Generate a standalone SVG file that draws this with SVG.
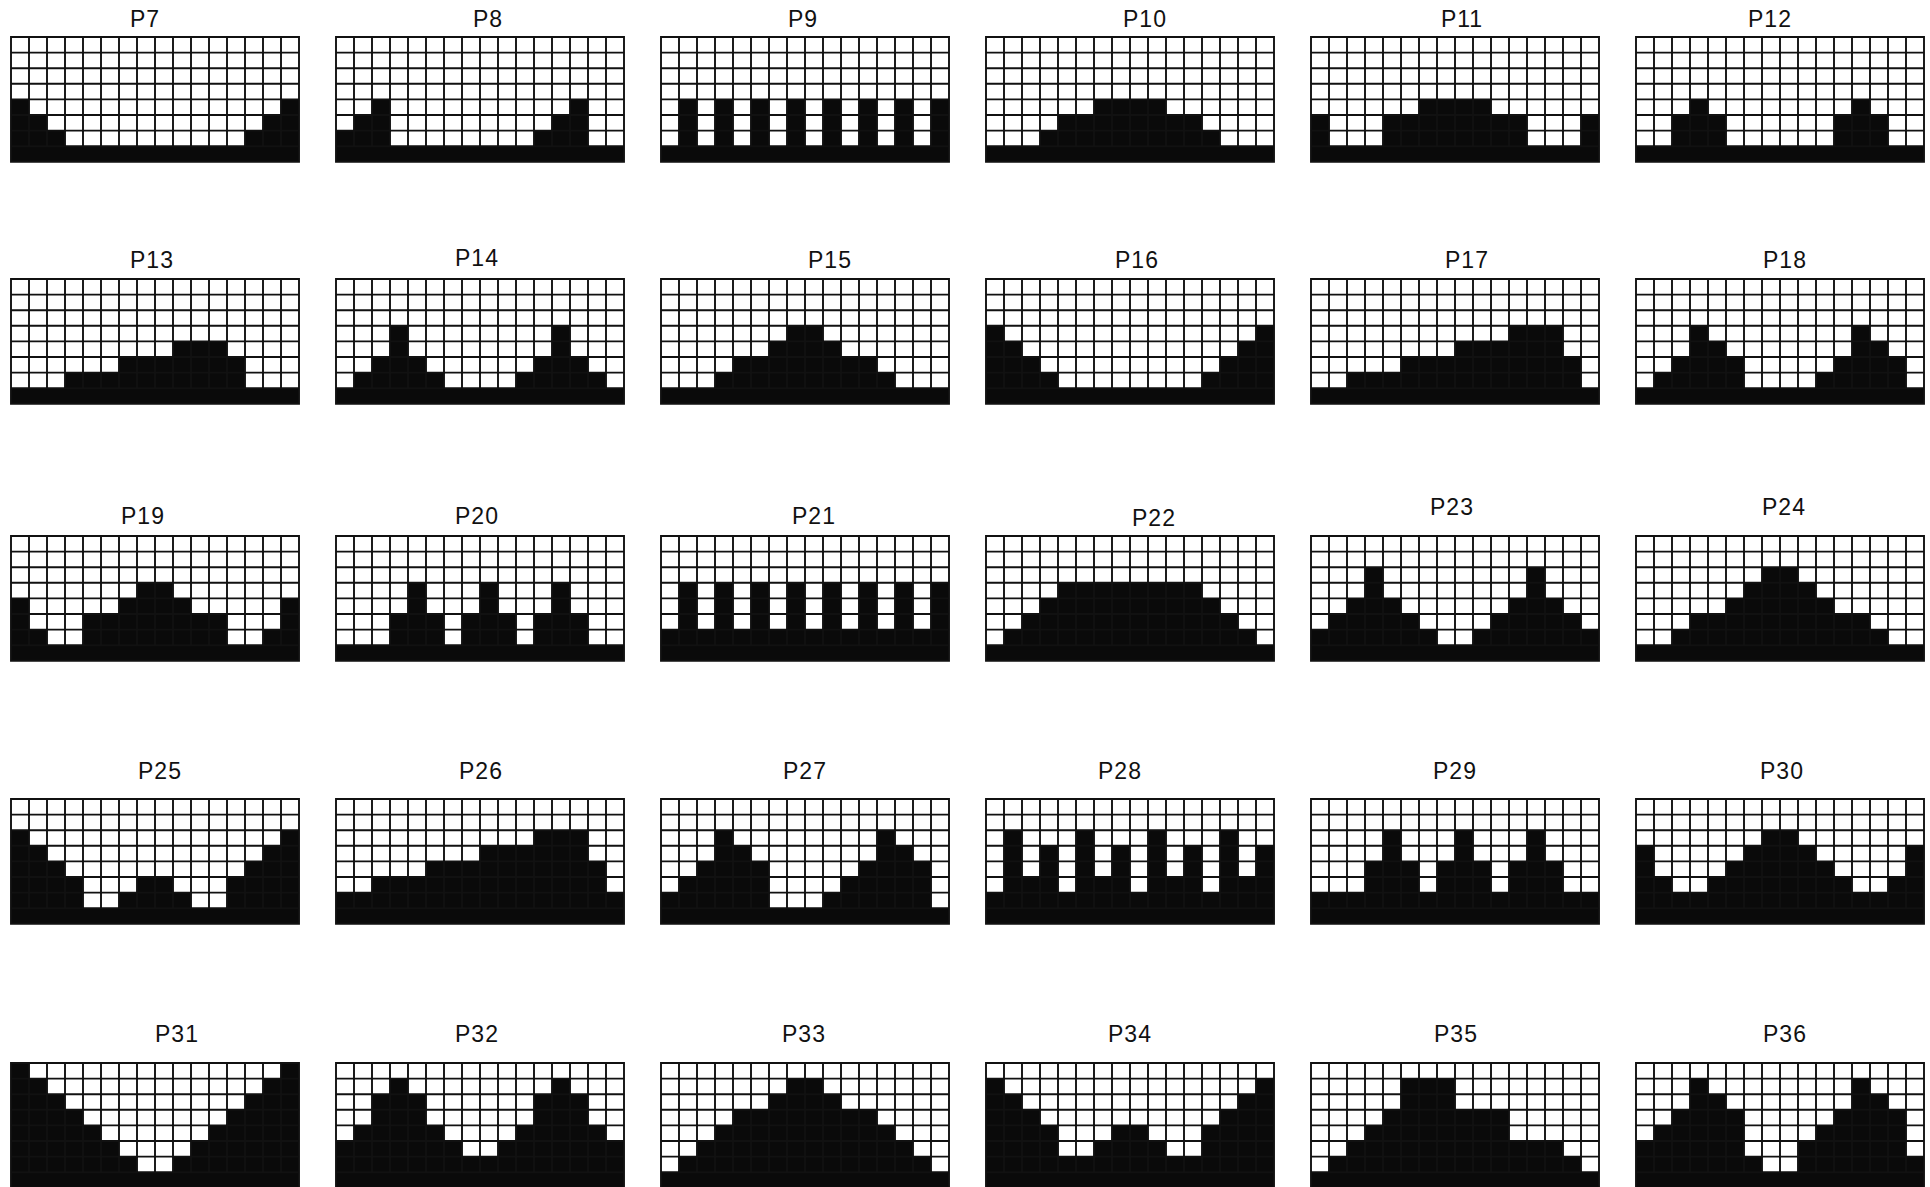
<svg xmlns="http://www.w3.org/2000/svg" xmlns:xlink="http://www.w3.org/1999/xlink" width="1930" height="1187" viewBox="0 0 1930 1187">
<style>
.t{font-family:"Liberation Sans",Arial,sans-serif;font-size:23px;fill:#111;text-anchor:middle;letter-spacing:1px}
.bg{fill:#fff}
.f{fill:#0a0a0a}
.ln{fill:none;stroke:#111;stroke-width:1.9}
</style>
<defs>
<g id="grid">
<path class="ln" vector-effect="non-scaling-stroke" d="M0 1H16M0 2H16M0 3H16M0 4H16M0 5H16M0 6H16M0 7H16M1 0V7M2 0V7M3 0V7M4 0V7M5 0V7M6 0V7M7 0V7M8 0V7M9 0V7M10 0V7M11 0V7M12 0V7M13 0V7M14 0V7M15 0V7"/>
<rect class="ln" vector-effect="non-scaling-stroke" x="0" y="0" width="16" height="8"/>
</g>
</defs>
<rect width="1930" height="1187" fill="#fff"/>

<g id="P7"><text class="t" x="145" y="27">P7</text><g transform="translate(11,37) scale(18,15.6)"><rect class="bg" width="16" height="8"/><path class="f" d="M0 8V4H1V5H2V6H3V7H13V6H14V5H15V4H16V8Z"/><use href="#grid"/></g></g>
<g id="P8"><text class="t" x="488" y="27">P8</text><g transform="translate(336,37) scale(18,15.6)"><rect class="bg" width="16" height="8"/><path class="f" d="M0 8V6H1V5H2V4H3V7H11V6H12V5H13V4H14V7H16V8Z"/><use href="#grid"/></g></g>
<g id="P9"><text class="t" x="803" y="27">P9</text><g transform="translate(661,37) scale(18,15.6)"><rect class="bg" width="16" height="8"/><path class="f" d="M0 8V7H1V4H2V7H3V4H4V7H5V4H6V7H7V4H8V7H9V4H10V7H11V4H12V7H13V4H14V7H15V4H16V8Z"/><use href="#grid"/></g></g>
<g id="P10"><text class="t" x="1145" y="27">P10</text><g transform="translate(986,37) scale(18,15.6)"><rect class="bg" width="16" height="8"/><path class="f" d="M0 8V7H3V6H4V5H6V4H10V5H12V6H13V7H16V8Z"/><use href="#grid"/></g></g>
<g id="P11"><text class="t" x="1462" y="27">P11</text><g transform="translate(1311,37) scale(18,15.6)"><rect class="bg" width="16" height="8"/><path class="f" d="M0 8V5H1V7H4V5H6V4H10V5H12V7H15V5H16V8Z"/><use href="#grid"/></g></g>
<g id="P12"><text class="t" x="1770" y="27">P12</text><g transform="translate(1636,37) scale(18,15.6)"><rect class="bg" width="16" height="8"/><path class="f" d="M0 8V7H2V5H3V4H4V5H5V7H11V5H12V4H13V5H14V7H16V8Z"/><use href="#grid"/></g></g>

<g id="P13"><text class="t" x="152" y="268">P13</text><g transform="translate(11,279) scale(18,15.6)"><rect class="bg" width="16" height="8"/><path class="f" d="M0 8V7H3V6H6V5H9V4H12V5H13V7H16V8Z"/><use href="#grid"/></g></g>
<g id="P14"><text class="t" x="477" y="266">P14</text><g transform="translate(336,279) scale(18,15.6)"><rect class="bg" width="16" height="8"/><path class="f" d="M0 8V7H1V6H2V5H3V3H4V5H5V6H6V7H10V6H11V5H12V3H13V5H14V6H15V7H16V8Z"/><use href="#grid"/></g></g>
<g id="P15"><text class="t" x="830" y="268">P15</text><g transform="translate(661,279) scale(18,15.6)"><rect class="bg" width="16" height="8"/><path class="f" d="M0 8V7H3V6H4V5H6V4H7V3H9V4H10V5H12V6H13V7H16V8Z"/><use href="#grid"/></g></g>
<g id="P16"><text class="t" x="1137" y="268">P16</text><g transform="translate(986,279) scale(18,15.6)"><rect class="bg" width="16" height="8"/><path class="f" d="M0 8V3H1V4H2V5H3V6H4V7H12V6H13V5H14V4H15V3H16V8Z"/><use href="#grid"/></g></g>
<g id="P17"><text class="t" x="1467" y="268">P17</text><g transform="translate(1311,279) scale(18,15.6)"><rect class="bg" width="16" height="8"/><path class="f" d="M0 8V7H2V6H5V5H8V4H11V3H14V5H15V7H16V8Z"/><use href="#grid"/></g></g>
<g id="P18"><text class="t" x="1785" y="268">P18</text><g transform="translate(1636,279) scale(18,15.6)"><rect class="bg" width="16" height="8"/><path class="f" d="M0 8V7H1V6H2V5H3V3H4V4H5V5H6V7H10V6H11V5H12V3H13V4H14V5H15V7H16V8Z"/><use href="#grid"/></g></g>

<g id="P19"><text class="t" x="143" y="524">P19</text><g transform="translate(11,536) scale(18,15.6)"><rect class="bg" width="16" height="8"/><path class="f" d="M0 8V4H1V6H2V7H4V5H6V4H7V3H9V4H10V5H12V7H14V6H15V4H16V8Z"/><use href="#grid"/></g></g>
<g id="P20"><text class="t" x="477" y="524">P20</text><g transform="translate(336,536) scale(18,15.6)"><rect class="bg" width="16" height="8"/><path class="f" d="M0 8V7H3V5H4V3H5V5H6V7H7V5H8V3H9V5H10V7H11V5H12V3H13V5H14V7H16V8Z"/><use href="#grid"/></g></g>
<g id="P21"><text class="t" x="814" y="524">P21</text><g transform="translate(661,536) scale(18,15.6)"><rect class="bg" width="16" height="8"/><path class="f" d="M0 8V6H1V3H2V6H3V3H4V6H5V3H6V6H7V3H8V6H9V3H10V6H11V3H12V6H13V3H14V6H15V3H16V8Z"/><use href="#grid"/></g></g>
<g id="P22"><text class="t" x="1154" y="526">P22</text><g transform="translate(986,536) scale(18,15.6)"><rect class="bg" width="16" height="8"/><path class="f" d="M0 8V7H1V6H2V5H3V4H4V3H12V4H13V5H14V6H15V7H16V8Z"/><use href="#grid"/></g></g>
<g id="P23"><text class="t" x="1452" y="515">P23</text><g transform="translate(1311,536) scale(18,15.6)"><rect class="bg" width="16" height="8"/><path class="f" d="M0 8V6H1V5H2V4H3V2H4V4H5V5H6V6H7V7H9V6H10V5H11V4H12V2H13V4H14V5H15V6H16V8Z"/><use href="#grid"/></g></g>
<g id="P24"><text class="t" x="1784" y="515">P24</text><g transform="translate(1636,536) scale(18,15.6)"><rect class="bg" width="16" height="8"/><path class="f" d="M0 8V7H2V6H3V5H5V4H6V3H7V2H9V3H10V4H11V5H13V6H14V7H16V8Z"/><use href="#grid"/></g></g>

<g id="P25"><text class="t" x="160" y="779">P25</text><g transform="translate(11,799) scale(18,15.6)"><rect class="bg" width="16" height="8"/><path class="f" d="M0 8V2H1V3H2V4H3V5H4V7H6V6H7V5H9V6H10V7H12V5H13V4H14V3H15V2H16V8Z"/><use href="#grid"/></g></g>
<g id="P26"><text class="t" x="481" y="779">P26</text><g transform="translate(336,799) scale(18,15.6)"><rect class="bg" width="16" height="8"/><path class="f" d="M0 8V6H2V5H5V4H8V3H11V2H14V4H15V6H16V8Z"/><use href="#grid"/></g></g>
<g id="P27"><text class="t" x="805" y="779">P27</text><g transform="translate(661,799) scale(18,15.6)"><rect class="bg" width="16" height="8"/><path class="f" d="M0 8V6H1V5H2V4H3V2H4V3H5V4H6V7H9V6H10V5H11V4H12V2H13V3H14V4H15V7H16V8Z"/><use href="#grid"/></g></g>
<g id="P28"><text class="t" x="1120" y="779">P28</text><g transform="translate(986,799) scale(18,15.6)"><rect class="bg" width="16" height="8"/><path class="f" d="M0 8V6H1V2H2V5H3V3H4V6H5V2H6V5H7V3H8V6H9V2H10V5H11V3H12V6H13V2H14V5H15V3H16V8Z"/><use href="#grid"/></g></g>
<g id="P29"><text class="t" x="1455" y="779">P29</text><g transform="translate(1311,799) scale(18,15.6)"><rect class="bg" width="16" height="8"/><path class="f" d="M0 8V6H3V4H4V2H5V4H6V6H7V4H8V2H9V4H10V6H11V4H12V2H13V4H14V6H16V8Z"/><use href="#grid"/></g></g>
<g id="P30"><text class="t" x="1782" y="779">P30</text><g transform="translate(1636,799) scale(18,15.6)"><rect class="bg" width="16" height="8"/><path class="f" d="M0 8V3H1V5H2V6H4V5H5V4H6V3H7V2H9V3H10V4H11V5H12V6H14V5H15V3H16V8Z"/><use href="#grid"/></g></g>

<g id="P31"><text class="t" x="177" y="1042">P31</text><g transform="translate(11,1063) scale(18,15.6)"><rect class="bg" width="16" height="8"/><path class="f" d="M0 8V0H1V1H2V2H3V3H4V4H5V5H6V6H7V7H9V6H10V5H11V4H12V3H13V2H14V1H15V0H16V8Z"/><use href="#grid"/></g></g>
<g id="P32"><text class="t" x="477" y="1042">P32</text><g transform="translate(336,1063) scale(18,15.6)"><rect class="bg" width="16" height="8"/><path class="f" d="M0 8V5H1V4H2V2H3V1H4V2H5V4H6V5H7V6H9V5H10V4H11V2H12V1H13V2H14V4H15V5H16V8Z"/><use href="#grid"/></g></g>
<g id="P33"><text class="t" x="804" y="1042">P33</text><g transform="translate(661,1063) scale(18,15.6)"><rect class="bg" width="16" height="8"/><path class="f" d="M0 8V7H1V6H2V5H3V4H4V3H6V2H7V1H9V2H10V3H12V4H13V5H14V6H15V7H16V8Z"/><use href="#grid"/></g></g>
<g id="P34"><text class="t" x="1130" y="1042">P34</text><g transform="translate(986,1063) scale(18,15.6)"><rect class="bg" width="16" height="8"/><path class="f" d="M0 8V1H1V2H2V3H3V4H4V6H6V5H7V4H9V5H10V6H12V4H13V3H14V2H15V1H16V8Z"/><use href="#grid"/></g></g>
<g id="P35"><text class="t" x="1456" y="1042">P35</text><g transform="translate(1311,1063) scale(18,15.6)"><rect class="bg" width="16" height="8"/><path class="f" d="M0 8V7H1V6H2V5H3V4H4V3H5V1H8V3H11V5H14V6H15V7H16V8Z"/><use href="#grid"/></g></g>
<g id="P36"><text class="t" x="1785" y="1042">P36</text><g transform="translate(1636,1063) scale(18,15.6)"><rect class="bg" width="16" height="8"/><path class="f" d="M0 8V5H1V4H2V3H3V1H4V2H5V3H6V6H7V7H9V5H10V4H11V3H12V1H13V2H14V3H15V6H16V8Z"/><use href="#grid"/></g></g>
</svg>
